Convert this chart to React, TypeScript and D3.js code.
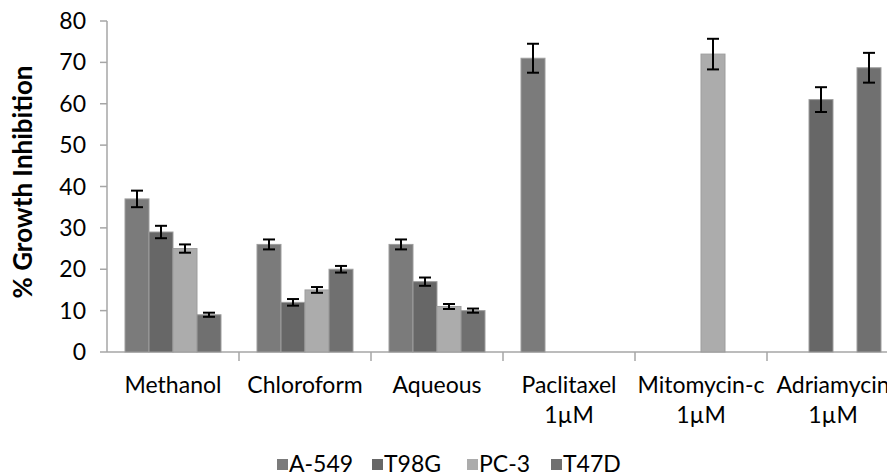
import React, { useEffect, useRef } from "react";
import * as d3 from "d3";

const categories = ["Methanol", "Chloroform", "Aqueous", "Paclitaxel\n1\u00b5M", "Mitomycin-c\n1\u00b5M", "Adriamycin\n1\u00b5M"];
const series = ["A-549", "T98G", "PC-3", "T47D"];
const colors = ["#7b7b7b", "#676767", "#acacac", "#707070"];

// null = no bar
const a549 = [37, 26, 26, 71, null, null];
const t98g = [29, 12, 17, null, null, 61];
const pc3 = [25, 15, 11, null, 72, null];
const t47d = [9, 20, 10, null, null, 68.7];

const a549Err = [2, 1.2, 1.2, 3.5, 0, 0];
const t98gErr = [1.5, 0.8, 1, 0, 0, 3];
const pc3Err = [1, 0.7, 0.6, 0, 3.7, 0];
const t47dErr = [0.5, 0.8, 0.5, 0, 0, 3.6];

const yTicks = [0, 10, 20, 30, 40, 50, 60, 70, 80];

const App = () => {
  const ref = useRef<SVGSVGElement>(null);

  useEffect(() => {
    const svg = d3.select(ref.current);
    svg.selectAll("*").remove();

    const left = 107;
    const top = 21;
    const bottom = 352;
    const bandW = 132;

    const x = d3.scaleBand().domain(categories).range([left, left + bandW * categories.length]);
    const inner = d3.scaleBand().domain(series).range([18, bandW - 18]);
    const y = d3.scaleLinear().domain([0, 80]).range([bottom, top]);

    const font = "Lato, 'Open Sans', sans-serif";
    const fs = "23px";
    const values = [a549, t98g, pc3, t47d];
    const errs = [a549Err, t98gErr, pc3Err, t47dErr];

    // axes
    svg.append("line").attr("x1", left).attr("x2", 887).attr("y1", bottom).attr("y2", bottom)
      .attr("stroke", "#a6a6a6").attr("stroke-width", 1.5);
    svg.append("line").attr("x1", left).attr("x2", left).attr("y1", top).attr("y2", bottom)
      .attr("stroke", "#a6a6a6").attr("stroke-width", 1.5);

    yTicks.forEach(t => {
      svg.append("line").attr("x1", left - 7).attr("x2", left).attr("y1", y(t)).attr("y2", y(t))
        .attr("stroke", "#a6a6a6").attr("stroke-width", 1.5);
      svg.append("text").attr("x", 86).attr("y", y(t) + 8).attr("text-anchor", "end")
        .style("font-family", font).style("font-size", fs).attr("fill", "#000").text(t);
    });

    categories.forEach((c, i) => {
      const x0 = x(c)!;
      if (i > 0) {
        svg.append("line").attr("x1", x0).attr("x2", x0).attr("y1", bottom).attr("y2", bottom + 9)
          .attr("stroke", "#a6a6a6").attr("stroke-width", 1.5);
      }
      const lines = c.split("\n");
      lines.forEach((l, k) => {
        svg.append("text").attr("x", x0 + bandW / 2).attr("y", 393 + k * 30).attr("text-anchor", "middle")
          .style("font-family", font).style("font-size", fs).attr("fill", "#000").text(l);
      });
    });

    // bars
    series.forEach((s, si) => {
      categories.forEach((c, ci) => {
        const v = values[si][ci];
        if (v == null) return;
        const bx = x(c)! + inner(s)!;
        const bw = inner.bandwidth();
        svg.append("rect").attr("x", bx).attr("y", y(v)).attr("width", bw).attr("height", bottom - y(v))
          .attr("fill", colors[si]).attr("stroke", "#9d9d9d").attr("stroke-width", 1);
        const e = errs[si][ci];
        if (e > 0) {
          const cx = bx + bw / 2;
          const g = svg.append("g").attr("stroke", "#000").attr("stroke-width", 2);
          g.append("line").attr("x1", cx).attr("x2", cx).attr("y1", y(v + e)).attr("y2", y(v - e));
          g.append("line").attr("x1", cx - 6).attr("x2", cx + 6).attr("y1", y(v + e)).attr("y2", y(v + e));
          g.append("line").attr("x1", cx - 6).attr("x2", cx + 6).attr("y1", y(v - e)).attr("y2", y(v - e));
        }
      });
    });

    // y title
    svg.append("text").attr("transform", "translate(32,182) rotate(-90)").attr("text-anchor", "middle")
      .style("font-family", font).style("font-size", "26px").style("font-weight", "bold")
      .attr("fill", "#000").text("% Growth Inhibition");

    // legend
    const legendX = [277, 372, 467, 551];
    series.forEach((s, i) => {
      svg.append("rect").attr("x", legendX[i]).attr("y", 459).attr("width", 11).attr("height", 11)
        .attr("fill", colors[i]);
      svg.append("text").attr("x", legendX[i] + 12).attr("y", 472)
        .style("font-family", font).style("font-size", fs).attr("fill", "#000").text(s);
    });
  }, []);

  return (
    <svg ref={ref} width={887} height={476}
      style={{ position: "absolute", left: 0, top: 0, background: "#fff" }} />
  );
};

export default App;
